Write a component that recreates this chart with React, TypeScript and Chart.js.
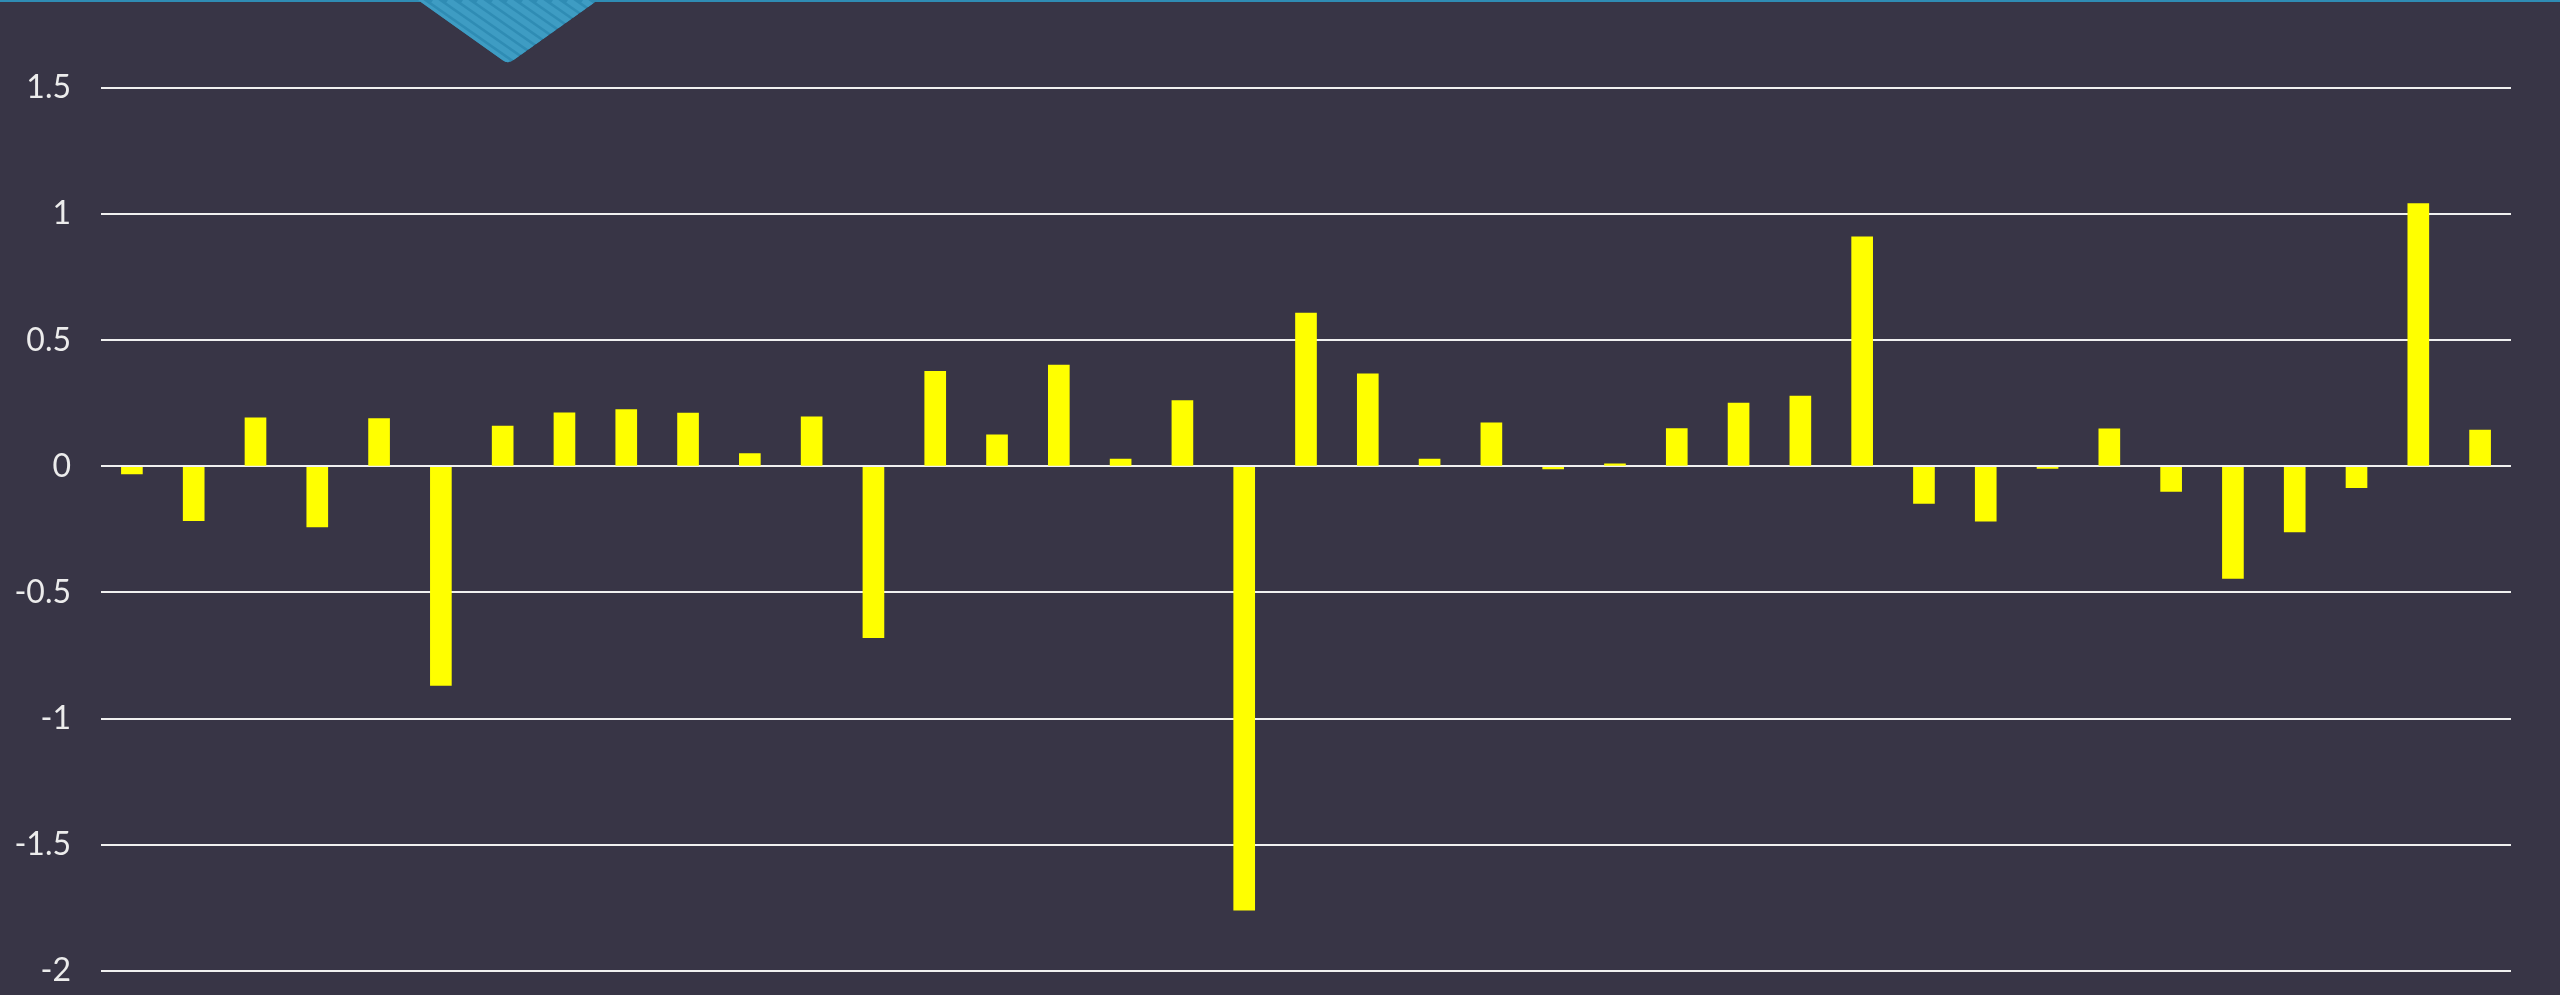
import React, { useEffect, useRef } from "react";
import { Chart, registerables } from "chart.js";

Chart.register(...registerables);

const categories = [
  "1", "2", "3", "4", "5", "6", "7", "8", "9", "10",
  "11", "12", "13", "14", "15", "16", "17", "18", "19", "20",
  "21", "22", "23", "24", "25", "26", "27", "28", "29", "30",
  "31", "32", "33", "34", "35", "36", "37", "38", "39",
];

const values = [
  -0.03, -0.215, 0.192, -0.24, 0.189, -0.869, 0.16, 0.212, 0.225, 0.211,
  0.051, 0.196, -0.679, 0.377, 0.125, 0.401, 0.029, 0.261, -1.76, 0.608,
  0.367, 0.029, 0.173, -0.01, 0.01, 0.15, 0.251, 0.279, 0.91, -0.147,
  -0.217, -0.008, 0.149, -0.099, -0.444, -0.26, -0.085, 1.042, 0.144,
];

const yTickLabels = ["-2", "-1.5", "-1", "-0.5", "0", "0.5", "1", "1.5"];
const yMin = -2;
const yMax = 1.5;
const yStep = 0.5;

const BG = "#383546";

const decorationPlugin = {
  id: "decoration",
  beforeDraw(chart: any) {
    const ctx = chart.ctx;
    ctx.save();
    ctx.fillStyle = BG;
    ctx.fillRect(0, 0, chart.width, chart.height);
    ctx.restore();
  },
  afterDraw(chart: any) {
    const ctx = chart.ctx;
    ctx.save();
    ctx.fillStyle = "#2f8cb4";
    ctx.fillRect(0, 0, chart.width, 2);
    const lx = 418, rx = 598, tipX = 508, tipY = 64;
    ctx.beginPath();
    ctx.moveTo(lx, 0);
    ctx.lineTo(rx, 0);
    ctx.arcTo(tipX, tipY, lx, 0, 9);
    ctx.arcTo(tipX, tipY, lx, 0, 9);
    ctx.lineTo(lx, 0);
    ctx.closePath();
    ctx.fillStyle = "#2f8cb4";
    ctx.fill();
    ctx.clip();
    ctx.strokeStyle = "#3e9cc3";
    ctx.lineWidth = 6;
    for (let x = lx - 120; x < rx + 20; x += 15) {
      ctx.beginPath();
      ctx.moveTo(x, 0);
      ctx.lineTo(x + 90, 63);
      ctx.stroke();
    }
    ctx.restore();
  },
};

export default function App() {
  const ref = useRef<HTMLCanvasElement | null>(null);

  useEffect(() => {
    document.body.style.margin = "0";
    document.body.style.overflow = "hidden";
    document.body.style.background = BG;
    if (!ref.current) return;
    const chart = new Chart(ref.current, {
      type: "bar",
      data: {
        labels: categories,
        datasets: [
          {
            label: "Series 1",
            data: values,
            backgroundColor: "#ffff00",
            borderWidth: 0,
            barThickness: 21,
          },
        ],
      },
      options: {
        responsive: false,
        maintainAspectRatio: false,
        animation: false,
        devicePixelRatio: 1,
        layout: { autoPadding: false, padding: { top: 88, bottom: 24, right: 49, left: 0 } },
        plugins: {
          legend: { display: false },
          tooltip: { enabled: false },
          title: { display: false },
        },
        scales: {
          x: {
            display: false,
            grid: { display: false },
          },
          y: {
            min: yMin,
            max: yMax,
            border: { display: false },
            grid: {
              color: "#f0f0f0",
              lineWidth: 2,
              drawTicks: false,
            },
            ticks: {
              stepSize: yStep,
              padding: 30,
              color: "#ececec",
              font: { family: "Lato", size: 32 },
              callback: (value: any) => {
                const i = Math.round((Number(value) - yMin) / yStep);
                return yTickLabels[i] ?? "";
              },
            },
            afterFit: (scale: any) => {
              scale.width = 101;
            },
          },
        },
      },
      plugins: [decorationPlugin],
    });
    return () => chart.destroy();
  }, []);

  return (
    <div
      style={{
        position: "absolute",
        left: 0,
        top: 0,
        width: 2560,
        height: 995,
        overflow: "hidden",
        background: BG,
      }}
    >
      <canvas ref={ref} width={2560} height={1020} style={{ display: "block", width: 2560, height: 1020 }} />
    </div>
  );
}
